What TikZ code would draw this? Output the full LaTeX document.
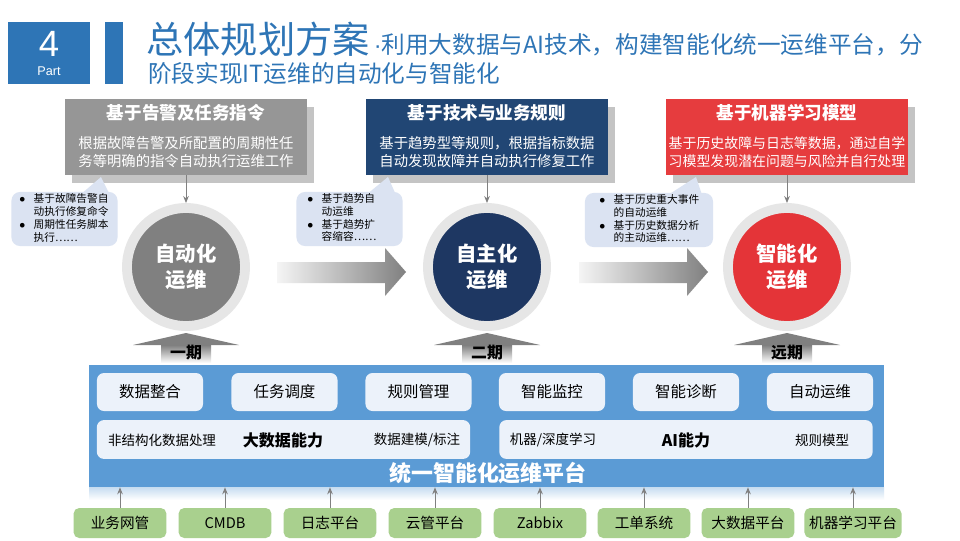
\documentclass[tikz,border=0pt]{standalone}
\usepackage{fontspec}
\setmainfont{Noto Sans CJK SC}
\newfontfamily\latinsans{Liberation Sans}
\usetikzlibrary{arrows.meta, positioning, calc}

\definecolor{partblue}{RGB}{46, 117, 182}
\definecolor{boxgray}{RGB}{150, 150, 150}
\definecolor{stagegray}{RGB}{128, 128, 128}
\definecolor{boxnavy}{RGB}{33, 70, 116}
\definecolor{stagenavy}{RGB}{30, 55, 98}
\definecolor{boxred}{RGB}{230, 60, 62}
\definecolor{stagered}{RGB}{228, 52, 56}
\definecolor{shadowgray}{RGB}{196, 196, 196}
\definecolor{ringgray}{RGB}{230, 230, 230}
\definecolor{bubbleblue}{RGB}{219, 227, 242}
\definecolor{platblue}{RGB}{91, 155, 213}
\definecolor{cellwhite}{RGB}{236, 242, 250}
\definecolor{srcgreen}{RGB}{169, 208, 142}
\definecolor{arrowgray}{RGB}{128, 128, 128}

\begin{document}
\begin{tikzpicture}[
  x=0.025cm, y=-0.025cm,
  headbox/.style={minimum width=6.05cm, minimum height=1.9cm, inner sep=0pt},
  shadowbox/.style={headbox, fill=shadowgray},
  headtitle/.style={font=\fontsize{12.5}{15}\selectfont\bfseries, text=white, inner sep=0pt},
  headtext/.style={font=\fontsize{10.2}{12.8}\selectfont, text=white, align=center, inner sep=0pt},
  stage/.style={circle, draw=ringgray, line width=7pt, minimum size=2.95cm, inner sep=0pt, text=white, align=center, font=\fontsize{14.5}{18.5}\selectfont\bfseries},
  bubble/.style={fill=bubbleblue, rounded corners=6pt, minimum width=2.65cm, minimum height=1.35cm},
  bubbletext/.style={font=\fontsize{7.6}{9.2}\selectfont, anchor=west, inner sep=0pt},
  cell/.style={fill=cellwhite, rounded corners=5pt, minimum width=2.65cm, minimum height=0.95cm, font=\fontsize{11}{13}\selectfont},
  wide/.style={fill=cellwhite, rounded corners=5pt, minimum width=9.33cm, minimum height=0.97cm},
  small/.style={font=\fontsize{9.6}{11}\selectfont, inner sep=0pt},
  power/.style={font=\fontsize{11.4}{13}\selectfont\bfseries, inner sep=0pt},
  src/.style={fill=srcgreen, rounded corners=4pt, minimum width=2.32cm, minimum height=0.75cm, font=\fontsize{10.4}{12}\selectfont},
  feed/.style={-{Stealth[length=5pt,width=4pt]}, draw=arrowgray, line width=0.7pt},
]
  \useasboundingbox (0,0) rectangle (960,540);
  \fill[white] (0,0) rectangle (960,540);

  % title
  \node[fill=partblue, minimum width=2.05cm, minimum height=1.55cm] (part) at (49,53) {};
  \node[text=white, font=\latinsans\fontsize{26}{28}\selectfont] (partnum) at (49,44) {4};
  \node[text=white, font=\latinsans\fontsize{9}{10}\selectfont] (partlbl) at (49,71) {Part};
  \fill[partblue] (105,22) rectangle (123,84);
  \node[anchor=base west, inner sep=0pt, text=partblue] (title) at (146,53)
    {\fontsize{26.5}{30}\selectfont 总体规划方案\fontsize{16.8}{20}\selectfont{\latinsans\,·}利用大数据与AI技术，构建智能化统一运维平台，分};
  \node[anchor=base west, inner sep=0pt, text=partblue, font=\fontsize{16.8}{20}\selectfont] (subtitle) at (148,82)
    {阶段实现IT运维的自动化与智能化};

  % three ways of working
  \node[shadowbox] at (193,145) {};
  \node[headbox, fill=boxgray] (b1) at (186,137) {};
  \node[headtitle] (b1h) at (186,113) {基于告警及任务指令};
  \node[headtext] (b1t) at (186,152) {根据故障告警及所配置的周期性任\\务等明确的指令自动执行运维工作};

  \node[shadowbox] at (494,145) {};
  \node[headbox, fill=boxnavy] (b2) at (487,137) {};
  \node[headtitle] (b2h) at (487,113) {基于技术与业务规则};
  \node[headtext] (b2t) at (487,152) {基于趋势型等规则，根据指标数据\\自动发现故障并自动执行修复工作};

  \node[shadowbox] at (794,145) {};
  \node[headbox, fill=boxred] (b3) at (787,137) {};
  \node[headtitle] (b3h) at (787,113) {基于机器学习模型};
  \node[headtext, font=\fontsize{9.9}{12.8}\selectfont] (b3t) at (787,152) {基于历史故障与日志等数据，通过自学\\习模型发现潜在问题与风险并自行处理};

  \node[stage, fill=stagegray] (c1) at (186,267) {自动化\\运维};
  \node[stage, fill=stagenavy] (c2) at (487,267) {自主化\\运维};
  \node[stage, fill=stagered] (c3) at (787,267) {智能化\\运维};

  \draw[feed] (b1.south) -- (c1.north);
  \draw[feed] (b2.south) -- (c2.north);
  \draw[feed] (b3.south) -- (c3.north);

  % callouts
  \fill[bubbleblue] (80,195) -- (101,177) -- (110,195) -- cycle;
  \node[bubble] (n1) at (64.5,219) {};
  \node[bubbletext] (n1t) at (19,219) {\begin{tabular}{@{}l@{\hspace{6pt}}l@{}}$\bullet$&基于故障告警自\\&动执行修复命令\\$\bullet$&周期性任务脚本\\&执行……\end{tabular}};

  \fill[bubbleblue] (366,195) -- (388,177) -- (396,195) -- cycle;
  \node[bubble] (n2) at (349.5,219) {};
  \node[bubbletext] (n2t) at (307,219) {\begin{tabular}{@{}l@{\hspace{6pt}}l@{}}$\bullet$&基于趋势自\\&动运维\\$\bullet$&基于趋势扩\\&容缩容……\end{tabular}};

  \fill[bubbleblue] (668,195) -- (696,177) -- (702,195) -- cycle;
  \node[bubble, minimum width=3.2cm] (n3) at (649,220) {};
  \node[bubbletext] (n3t) at (599,220) {\begin{tabular}{@{}l@{\hspace{6pt}}l@{}}$\bullet$&基于历史重大事件\\&的自动运维\\$\bullet$&基于历史数据分析\\&的主动运维……\end{tabular}};

  % progress arrows
  \foreach \dx in {0,302}
    \shade[left color=gray!8, right color=arrowgray]
      ({277+\dx},262) -- ({385+\dx},262) -- ({385+\dx},248) -- ({406+\dx},272)
      -- ({385+\dx},296) -- ({385+\dx},283) -- ({277+\dx},283) -- cycle;

  \foreach \x/\lbl/\n in {186/一期/1, 487/二期/2, 787/远期/3} {
    \fill[arrowgray] ({\x-53},345) -- (\x,333) -- ({\x+53},345) -- cycle;
    \shade[top color=arrowgray, bottom color=white] ({\x-25},345) rectangle ({\x+25},363);
    \node[font=\fontsize{11.3}{13}\selectfont\bfseries, inner sep=0pt] (phase\n) at (\x,353) {\lbl};
  }

  % platform
  \shade[top color=platblue!35, bottom color=white] (89,487) rectangle (884,500);
  \node[fill=platblue, minimum width=19.875cm, minimum height=3.05cm] (plat) at (486.5,426) {};
  \foreach \x/\t/\n in {150/数据整合/1, 284.5/任务调度/2, 418.5/规则管理/3, 552/智能监控/4, 686/智能诊断/5, 820/自动运维/6}
    \node[cell] (cell\n) at (\x,392) {\t};
  \node[wide] (bigdata) at (283.5,439.5) {};
  \node[wide] (ai) at (686,439.5) {};
  \node[small] (bd1) at (162,440) {非结构化数据处理};
  \node[power] (bd2) at (283,440) {大数据能力};
  \node[small] (bd3) at (417,440) {数据建模/标注};
  \node[small] (ai1) at (553,440) {机器/深度学习};
  \node[power] (ai2) at (686,440) {AI能力};
  \node[small] (ai3) at (822,440) {规则模型};
  \node[font=\fontsize{15.6}{18}\selectfont\bfseries, text=white, inner sep=0pt] (plattitle) at (488,473) {统一智能化运维平台};

  % data sources
  \foreach \x/\t [count=\n] in {120/业务网管, 225/CMDB, 330/日志平台, 435/云管平台, 540/Zabbix, 644/工单系统, 748/大数据平台, 853/机器学习平台} {
    \node[src] (src\n) at (\x,523) {\t};
    \draw[feed] (src\n.north) -- (src\n.north |- plat.south);
  }
\end{tikzpicture}
\end{document}
